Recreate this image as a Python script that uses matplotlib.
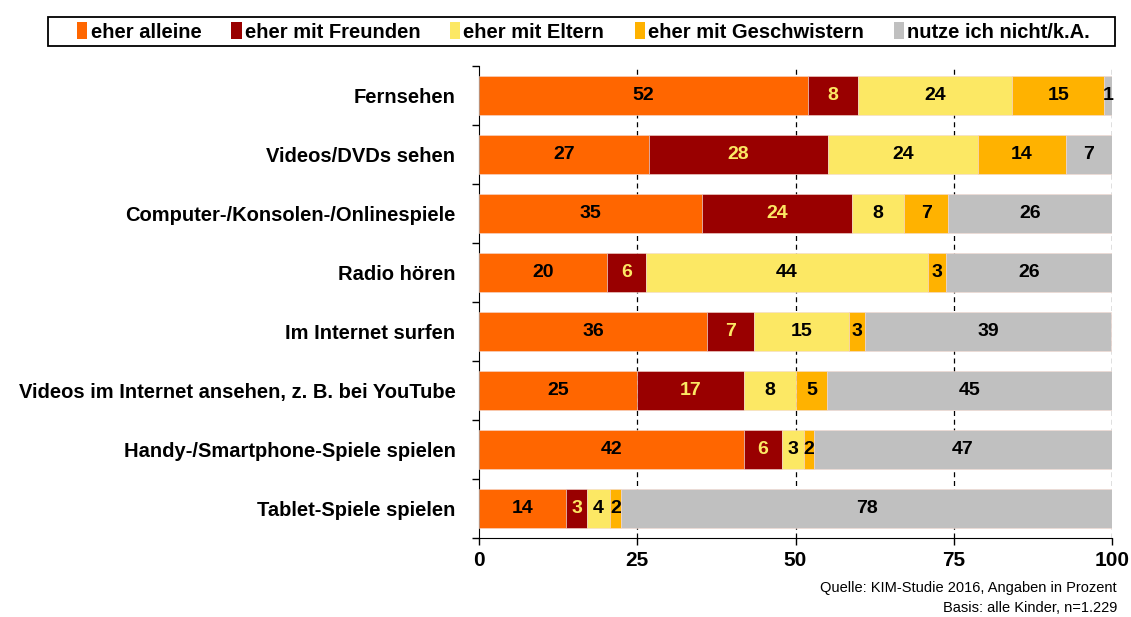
import matplotlib.pyplot as plt
import numpy as np

plt.rcParams['font.family'] = ['Liberation Sans', 'DejaVu Sans']

# Data (percent, bar lengths estimated; labels are rounded)
categories = ['Fernsehen', 'Videos/DVDs sehen', 'Computer-/Konsolen-/Onlinespiele',
              'Radio hören', 'Im Internet surfen',
              'Videos im Internet ansehen, z. B. bei YouTube',
              'Handy-/Smartphone-Spiele spielen', 'Tablet-Spiele spielen']
series_names = ['eher alleine', 'eher mit Freunden', 'eher mit Eltern',
                'eher mit Geschwistern', 'nutze ich nicht/k.A.']
alleine = [51.9, 26.8, 35.3, 20.2, 36.0, 24.9, 41.8, 13.8]
freunde = [7.9, 28.3, 23.6, 6.2, 7.4, 17.0, 6.1, 3.2]
eltern = [24.4, 23.8, 8.3, 44.5, 15.0, 8.2, 3.4, 3.7]
geschwister = [14.6, 13.8, 6.9, 2.8, 2.6, 4.8, 1.6, 1.8]
nicht = [1.2, 7.3, 26.0, 26.3, 38.9, 45.1, 47.1, 77.6]

colors = ['#FF6600', '#990000', '#FCE864', '#FFB200', '#C0C0C0']
label_colors = ['black', '#FCE864', 'black', 'black', 'black']

fig = plt.figure(figsize=(11.31, 6.17), dpi=100)
ax = fig.add_axes([479 / 1131, 1 - 538 / 617, 633 / 1131, 472 / 617])

y = np.arange(len(categories))
left = np.zeros(len(categories))
all_series = [alleine, freunde, eltern, geschwister, nicht]
for vals, name, col, lcol in zip(all_series, series_names, colors, label_colors):
    vals = np.array(vals)
    ax.barh(y, vals, left=left, height=0.67, color=col, label=name,
            edgecolor='#f4d9d0', linewidth=0.4, zorder=3)
    for i, v in enumerate(vals):
        ax.text(left[i] + v / 2, y[i], f"{v:.0f}", ha='center', va='center',
                fontsize=14, fontweight='bold', color=lcol, zorder=4)
    left += vals

ax.set_xlim(0, 100)
ax.set_ylim(len(categories) - 0.5, -0.5)
ax.set_xticks([0, 25, 50, 75, 100])
ax.set_xticklabels(['0', '25', '50', '75', '100'], fontsize=15, fontweight='bold')
ax.tick_params(axis='x', direction='out', length=5, width=1, pad=4)

ax.set_yticks(y)
ax.set_yticklabels(categories, fontsize=14.5, fontweight='bold')
ax.tick_params(axis='y', which='major', length=0, pad=17)
ax.set_yticks(np.arange(-0.5, len(categories), 1), minor=True)
ax.tick_params(axis='y', which='minor', direction='out', length=5, width=1)

for x in [25, 50, 75, 100]:
    ax.axvline(x, color='black', linestyle=(0, (4, 3)), linewidth=0.9, zorder=1)

ax.spines['top'].set_visible(False)
ax.spines['right'].set_visible(False)

handles, labels = ax.get_legend_handles_labels()
leg = fig.legend(handles, labels, loc='center', ncol=5,
                 bbox_to_anchor=(0.5 + 18 / 1131, 1 - 32 / 617),
                 frameon=False,
                 prop={'size': 14.5, 'weight': 'bold'},
                 handlelength=0.5, handleheight=0.9, handletextpad=0.15,
                 columnspacing=1.5, borderpad=0.3)
for h in leg.legend_handles:
    h.set_edgecolor('none')

# legend frame drawn as a separate box spanning the width
frame = plt.Rectangle((48 / 1131, 1 - 46 / 617), 1067 / 1131, 29 / 617,
                      transform=fig.transFigure, fill=False,
                      edgecolor='black', linewidth=1.3)
fig.patches.append(frame)

fig.text(1117 / 1131, 1 - 588 / 617, 'Quelle: KIM-Studie 2016, Angaben in Prozent',
         ha='right', va='center', fontsize=10.5)
fig.text(1117 / 1131, 1 - 608 / 617, 'Basis: alle Kinder, n=1.229',
         ha='right', va='center', fontsize=10.5)

fig.savefig('out.png', dpi=100)
